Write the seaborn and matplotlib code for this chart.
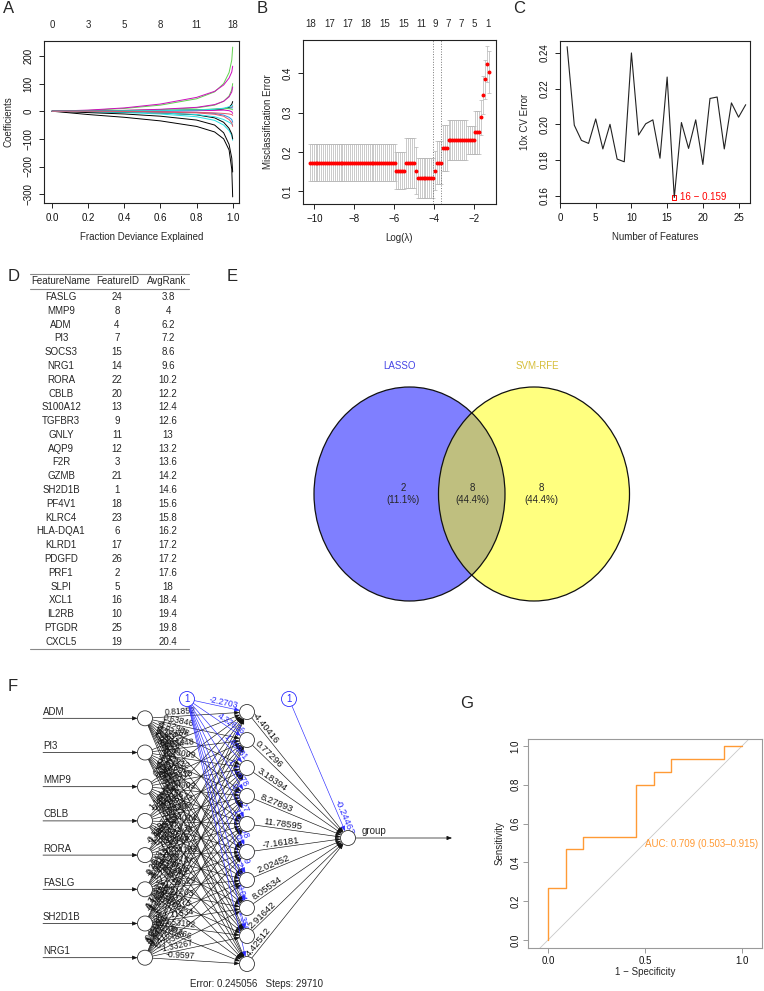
import numpy as np
import pandas as pd
import matplotlib
matplotlib.use("Agg")
import matplotlib.pyplot as plt
import seaborn as sns
from matplotlib.patches import Circle, Ellipse

# ---------------- data ----------------
# A: LASSO coefficient paths vs fraction of deviance explained
dev_frac = [0, 0.2, 0.4, 0.6, 0.8, 0.9, 0.95, 0.98, 0.995, 1.0]
coef_paths = [
    [0, 3, 10, 22, 45, 70, 100, 140, 185, 232],
    [0, 4, 12, 26, 50, 72, 95, 120, 142, 163],
    [0, 1, 3, 6, 12, 22, 36, 55, 78, 100],
    [0, 1, 3, 7, 14, 24, 36, 52, 70, 88],
    [0, -2, -5, -10, -20, -33, -50, -70, -88, -105],
    [0, -12, -22, -35, -55, -75, -100, -140, -210, -310],
    [0, -5, -10, -18, -32, -50, -78, -120, -170, -220],
    [0, -1, -3, -6, -13, -24, -40, -62, -82, -100],
    [0, 0, 1, 2, 3, 5, 8, 11, 14, 18],
    [0, 0, -1, -2, -4, -8, -14, -22, -30, -40],
    [0, -1, -3, -6, -12, -20, -30, -40, -46, -50],
    [0, 0, -1, -3, -6, -11, -18, -30, -42, -55],
    [0, 1, 2, 3, 5, 7, 9, 11, 12, 12],
    [0, 0, 1, 2, 4, 6, 9, 14, 25, 35],
    [0, 0, 1, 3, 5, 8, 10, 9, 7, 5],
    [0, 0, 0, 1, 2, 3, 4, 2, -2, -8],
    [0, 0, 1, 2, 4, 7, 11, 16, 19, 22],
    [0, 0, -1, -2, -4, -6, -8, -10, -12, -15],
]
path_colors = ["#61D04F", "#CD0BBC", "#61D04F", "#CD0BBC", "#28E2E5", "#000000",
               "#000000", "#000000", "#DF536B", "#2297E6", "#28E2E5", "#DF536B",
               "#2297E6", "#000000", "#61D04F", "#CD0BBC", "#28E2E5", "#DF536B"]
dev_ticks = [0, 0.2, 0.4, 0.6, 0.8, 1.0]
dev_nonzero = [0, 3, 5, 8, 11, 18]

# B: cross-validated misclassification error (run-length coded, left to right)
log_lambda = [-10.23, -10.14, -10.04, -9.94, -9.85, -9.75, -9.65, -9.55, -9.46, -9.36,
              -9.26, -9.17, -9.07, -8.97, -8.88, -8.78, -8.68, -8.59, -8.49, -8.39,
              -8.30, -8.20, -8.10, -8.01, -7.91, -7.81, -7.72, -7.62, -7.52, -7.43,
              -7.33, -7.23, -7.13, -7.04, -6.94, -6.84, -6.75, -6.65, -6.55, -6.46,
              -6.36, -6.26, -6.17, -6.07, -5.97, -5.88, -5.78, -5.68, -5.59, -5.49,
              -5.39, -5.30, -5.20, -5.10, -5.01, -4.91, -4.81, -4.71, -4.62, -4.52,
              -4.42, -4.33, -4.23, -4.13, -4.04, -3.94, -3.84, -3.75, -3.65, -3.55,
              -3.46, -3.36, -3.26, -3.17, -3.07, -2.97, -2.88, -2.78, -2.68, -2.59,
              -2.49, -2.39, -2.29, -2.20, -2.10, -2.00, -1.91, -1.81, -1.71, -1.62,
              -1.52, -1.42, -1.33, -1.23]
err_levels = [0.173, 0.153, 0.173, 0.153, 0.134, 0.153, 0.173, 0.211, 0.2305, 0.2305,
              0.25, 0.288, 0.346, 0.385, 0.423, 0.403]
err_se = [0.047, 0.048, 0.064, 0.06, 0.05, 0.049, 0.054, 0.058, 0.05, 0.036,
          0.055, 0.045, 0.048, 0.05, 0.046, 0.053]
err_counts = [45, 5, 5, 1, 9, 1, 3, 3, 10, 4, 3, 1, 1, 1, 1, 1]
lambda_min, lambda_1se = -4.04, -3.65
top_pos_b = [-10.18, -9.25, -8.33, -7.40, -6.47, -5.53, -4.65, -3.92, -3.27, -2.62, -1.97, -1.30]
top_nz_b = [18, 17, 17, 18, 15, 15, 11, 9, 7, 7, 5, 1]

# C: SVM-RFE 10x CV error
n_features = list(range(1, 27))
cv_error = [0.2435, 0.1995, 0.1910, 0.1893, 0.2030, 0.1862, 0.2000, 0.1805, 0.1790, 0.2400,
            0.1940, 0.2003, 0.2025, 0.1810, 0.2265, 0.1590, 0.2010, 0.1865, 0.2025, 0.1775,
            0.2145, 0.2153, 0.1862, 0.2120, 0.2040, 0.2110]
best_n, best_err = 16, 0.159

# D: SVM-RFE ranking table
feature_names = ["FASLG", "MMP9", "ADM", "PI3", "SOCS3", "NRG1", "RORA", "CBLB", "S100A12",
                 "TGFBR3", "GNLY", "AQP9", "F2R", "GZMB", "SH2D1B", "PF4V1", "KLRC4",
                 "HLA-DQA1", "KLRD1", "PDGFD", "PRF1", "SLPI", "XCL1", "IL2RB", "PTGDR", "CXCL5"]
feature_ids = [24, 8, 4, 7, 15, 14, 22, 20, 13, 9, 11, 12, 3, 21, 1, 18, 23, 6, 17, 26,
               2, 5, 16, 10, 25, 19]
avg_rank = [3.8, 4, 6.2, 7.2, 8.6, 9.6, 10.2, 12.2, 12.4, 12.6, 13, 13.2, 13.6, 14.2, 14.6,
            15.6, 15.8, 16.2, 17.2, 17.2, 17.6, 18, 18.4, 19.4, 19.8, 20.4]

# E: Venn counts
venn_sets = ["LASSO", "SVM-RFE"]
venn_counts = [2, 8, 8]  # LASSO only, both, SVM-RFE only

# F: neural network weights
nn_inputs = ["ADM", "PI3", "MMP9", "CBLB", "RORA", "FASLG", "SH2D1B", "NRG1"]
w_in_hidden = [
    [0.81852, 0.63846, 1.52988, -0.94625, 2.01348, -1.30925, 0.47009, -2.13662, 1.08213, -0.57744],
    [-1.20461, 0.93448, -0.33009, 1.74212, -2.61805, 0.52279, 1.91466, -0.84171, 0.29913, 1.45551],
    [0.37113, -1.69213, 2.28415, 0.64902, -0.15573, 1.33076, -2.04472, 0.87651, -1.14308, 0.60517],
    [1.12648, -0.42318, 0.73561, -1.88296, 0.94014, 2.47335, -0.61859, 1.20887, 0.35416, -1.02993],
    [-0.55972, 1.48551, -1.27606, 0.31284, 1.66745, -0.74193, 0.88157, -1.59632, 2.11871, 0.44016],
    [0.26431, -0.98716, 1.60473, -0.49055, 0.73647, 1.04884, -1.35629, 0.51203, -0.82275, 1.92041],
    [1.77325, 0.40981, -0.70552, 1.29458, -1.46613, 0.66807, 0.21287, -1.11534, 1.53192, -0.38266],
    [-0.67124, 1.09385, 0.55692, -1.62381, 0.84277, -0.29842, 1.41606, 0.70388, -1.33267, -0.9597],
]
w_bias_hidden = [-2.2703, 4.32636, 1.40981, 1.72678, 0.75427, 1.25708, 0.10109, 2.8596, 0.04044, 1.35906]
w_hidden_out = [-4.40416, 0.77296, 3.18394, 8.27893, 11.78595, -7.16181, 2.02452, 8.05534, 2.91642, 4.42512]
w_bias_out = -0.24463
nn_error, nn_steps = 0.245056, 29710

# G: ROC
roc_fpr = [0, 0, 0.0909, 0.0909, 0.1818, 0.1818, 0.4545, 0.4545, 0.5455, 0.5455,
           0.6364, 0.6364, 0.9091, 0.9091, 1.0]
roc_tpr = [0, 0.2667, 0.2667, 0.4667, 0.4667, 0.5333, 0.5333, 0.8, 0.8, 0.8667,
           0.8667, 0.9333, 0.9333, 1.0, 1.0]
auc, auc_lo, auc_hi = 0.709, 0.503, 0.915

# ---------------- style ----------------
sns.set_theme(style="white")
plt.rcParams["font.family"] = ["Liberation Sans", "DejaVu Sans"]
plt.rcParams["axes.unicode_minus"] = True

W, H = 764, 991
fig = plt.figure(figsize=(W / 100, H / 100), dpi=100)


def px_axes(l, t, r, b):
    return fig.add_axes([l / W, 1 - b / H, (r - l) / W, (b - t) / H])


def r_style(ax, edge="#222222"):
    for s in ax.spines.values():
        s.set_visible(True)
        s.set_color(edge)
        s.set_linewidth(0.8)
    ax.tick_params(direction="out", length=3.5, width=0.7, pad=4, labelsize=7,
                   colors=edge, labelcolor="#111111", bottom=True, left=True)
    ax.tick_params(axis="y", labelrotation=90)
    plt.setp(ax.get_yticklabels(), va="center")
    ax.grid(False)


def letter(x, y, s):
    fig.text(x / W, 1 - y / H, s, ha="left", va="top", fontsize=12)


# ---------------- A ----------------
ax = px_axes(44, 41, 239, 203)
rows = []
for i, path in enumerate(coef_paths):
    for f, c in zip(dev_frac, path):
        rows.append((i, f, c))
df_a = pd.DataFrame(rows, columns=["path", "frac", "coef"])
sns.lineplot(data=df_a, x="frac", y="coef", hue="path", palette=dict(enumerate(path_colors)),
             estimator=None, sort=False, legend=False, lw=0.7, ax=ax)
ax.set_xlim(-0.045, 1.035)
ax.set_ylim(-332, 254)
ax.set_xticks(dev_ticks)
ax.set_yticks([-300, -200, -100, 0, 100, 200])
ax.set_xlabel("Fraction Deviance Explained", fontsize=7, labelpad=6)
ax.set_ylabel("Coefficients", fontsize=7, labelpad=7)
r_style(ax)
top = ax.secondary_xaxis("top")
top.set_xticks(dev_ticks, labels=[str(v) for v in dev_nonzero])
top.tick_params(length=0, labelsize=7, pad=8)
top.spines["top"].set_visible(False)
letter(3, 1, "A")

# ---------------- B ----------------
ax = px_axes(303, 40, 496, 204)
cv_err = np.repeat(err_levels, err_counts)
cv_sd = np.repeat(err_se, err_counts)
ax.errorbar(log_lambda, cv_err, yerr=cv_sd, fmt="none", ecolor="#B5B5B5",
            elinewidth=0.5, capsize=1.3, capthick=0.5, zorder=1)
sns.scatterplot(x=log_lambda, y=cv_err, color="red", s=8, linewidth=0, ax=ax, zorder=3)
ax.axvline(lambda_min, color="#777777", ls=":", lw=0.7)
ax.axvline(lambda_1se, color="#777777", ls=":", lw=0.7)
ax.set_xlim(-10.57, -0.88)
ax.set_ylim(0.068, 0.485)
ax.set_xticks([-10, -8, -6, -4, -2])
ax.set_yticks([0.1, 0.2, 0.3, 0.4])
ax.set_xlabel("Log(λ)", fontsize=7, labelpad=6)
ax.set_ylabel("Misclassification Error", fontsize=7, labelpad=7)
r_style(ax)
top = ax.secondary_xaxis("top")
top.set_xticks(top_pos_b, labels=[str(v) for v in top_nz_b])
top.tick_params(length=0, labelsize=7, pad=8)
top.spines["top"].set_visible(False)
letter(257, 1, "B")

# ---------------- C ----------------
ax = px_axes(560, 41, 750, 203)
sns.lineplot(x=n_features, y=cv_error, color="#222222", lw=0.8, ax=ax)
sns.scatterplot(x=[best_n], y=[best_err], marker="s", s=10, facecolor="none",
                edgecolor="red", linewidth=0.7, ax=ax)
ax.annotate(f"{best_n} − {best_err}", (best_n, best_err), xytext=(4, 0),
            textcoords="offset points", ha="left", va="center", color="red", fontsize=7)
ax.set_xlim(0, 26.6)
ax.set_ylim(0.1559, 0.2467)
ax.set_xticks([0, 5, 10, 15, 20, 25])
ax.set_yticks([0.16, 0.18, 0.20, 0.22, 0.24])
ax.set_yticklabels(["0.16", "0.18", "0.20", "0.22", "0.24"])
ax.set_xlabel("Number of Features", fontsize=7, labelpad=6)
ax.set_ylabel("10x CV Error", fontsize=7, labelpad=7)
r_style(ax)
letter(513, 1, "C")

# ---------------- D ----------------
ax = px_axes(0, 255, 200, 660)
ax.set_xlim(0, 200)
ax.set_ylim(660, 255)
ax.axis("off")
head_x = [61, 118, 167]
col_x = [61, 117, 168]
for x, h in zip(head_x, ["FeatureName", "FeatureID", "AvgRank"]):
    ax.text(x, 281.5, h, ha="center", va="center", fontsize=7)
for i, (n, fid, r) in enumerate(zip(feature_names, feature_ids, avg_rank)):
    y = 297 + 13.79 * i
    ax.text(col_x[0], y, n, ha="center", va="center", fontsize=7)
    ax.text(col_x[1], y, str(fid), ha="center", va="center", fontsize=7)
    ax.text(col_x[2], y, f"{r:g}", ha="center", va="center", fontsize=7)
for y in [274, 289, 649]:
    ax.plot([30, 189], [y, y], color="#888888", lw=0.8)
letter(8, 269, "D")

# ---------------- E ----------------
ax = px_axes(230, 340, 700, 640)
ax.set_xlim(230, 700)
ax.set_ylim(640, 340)
ax.axis("off")
cx_l, cx_r, cy, rx, ry = 409.5, 534, 494, 95.5, 107
ax.add_patch(Ellipse((cx_l, cy), 2 * rx, 2 * ry, facecolor="#0000FF", alpha=0.5, lw=0))
ax.add_patch(Ellipse((cx_r, cy), 2 * rx, 2 * ry, facecolor="#FFFF00", alpha=0.5, lw=0))
for c in [cx_l, cx_r]:
    ax.add_patch(Ellipse((c, cy), 2 * rx, 2 * ry, facecolor="none", edgecolor="#111111", lw=0.9))
total = sum(venn_counts)
for x, n in zip([403, 472, 541], venn_counts):
    ax.text(x, cy, f"{n}\n({100 * n / total:.1f}%)", ha="center", va="center",
            fontsize=7, linespacing=1.15)
ax.text(400, 366, venn_sets[0], ha="center", va="center", fontsize=7, color="#4646E6")
ax.text(537, 366, venn_sets[1], ha="center", va="center", fontsize=7, color="#D6BE3A")
letter(227, 269, "E")

# ---------------- F ----------------
ax = px_axes(0, 680, 455, 991)
ax.set_xlim(0, 455)
ax.set_ylim(991, 680)
ax.axis("off")
X_IN, X_HID, X_OUT, Y_MID = 145, 247, 348, 838
R = 7.5
in_y = [Y_MID + (i - (len(nn_inputs) - 1) / 2) * 34.2 for i in range(len(nn_inputs))]
n_hid = len(w_hidden_out)
hid_y = [Y_MID + (j - (n_hid - 1) / 2) * 28 for j in range(n_hid)]
bias1, bias2 = (187, 699), (289, 699)
blue = "#2B2BFF"


def edge(p1, p2, w, color, frac, fs=6.2):
    (x1, y1), (x2, y2) = p1, p2
    d = np.hypot(x2 - x1, y2 - y1)
    ux, uy = (x2 - x1) / d, (y2 - y1) / d
    ax.annotate("", xy=(x2 - ux * R, y2 - uy * R), xytext=(x1 + ux * R, y1 + uy * R),
                arrowprops=dict(arrowstyle="-|>,head_length=0.5,head_width=0.2",
                                color=color, lw=0.45, shrinkA=0, shrinkB=0,
                                mutation_scale=6))
    ang = np.degrees(np.arctan2(-(y2 - y1), x2 - x1))
    ax.text(x1 + frac * (x2 - x1), y1 + frac * (y2 - y1), str(w), rotation=ang,
            rotation_mode="anchor", ha="center", va="bottom", fontsize=fs, color=color)


for i, yi in enumerate(in_y):
    for j, yh in enumerate(hid_y):
        ang = abs(np.degrees(np.arctan2(yh - yi, X_HID - X_IN)))
        edge((X_IN, yi), (X_HID, yh), w_in_hidden[i][j], "#111111", 0.36 - 0.0035 * ang)
for j, yh in enumerate(hid_y):
    ang = abs(np.degrees(np.arctan2(yh - bias1[1], X_HID - bias1[0])))
    edge(bias1, (X_HID, yh), w_bias_hidden[j], blue, 0.55 + 0.004 * ang)
for j, yh in enumerate(hid_y):
    ang = abs(np.degrees(np.arctan2(Y_MID - yh, X_OUT - X_HID)))
    edge((X_HID, yh), (X_OUT, Y_MID), w_hidden_out[j], "#111111", 0.38 - 0.0045 * ang, fs=6.8)
edge(bias2, (X_OUT, Y_MID), w_bias_out, blue, 0.86, fs=6.8)

for name, yi in zip(nn_inputs, in_y):
    ax.annotate("", xy=(X_IN - R, yi), xytext=(43, yi),
                arrowprops=dict(arrowstyle="-|>,head_length=0.5,head_width=0.2",
                                color="#111111", lw=0.5, shrinkA=0, shrinkB=0, mutation_scale=6))
    ax.text(43, yi - 1.5, name, ha="left", va="bottom", fontsize=7)
ax.annotate("", xy=(452, Y_MID), xytext=(X_OUT + R, Y_MID),
            arrowprops=dict(arrowstyle="-|>,head_length=0.5,head_width=0.2",
                            color="#111111", lw=0.5, shrinkA=0, shrinkB=0, mutation_scale=6))
ax.text(362, Y_MID - 1.5, "group", ha="left", va="bottom", fontsize=7)

for yi in in_y:
    ax.add_patch(Circle((X_IN, yi), R, facecolor="white", edgecolor="#333333", lw=0.6, zorder=5))
for yh in hid_y:
    ax.add_patch(Circle((X_HID, yh), R, facecolor="white", edgecolor="#333333", lw=0.6, zorder=5))
ax.add_patch(Circle((X_OUT, Y_MID), R, facecolor="white", edgecolor="#333333", lw=0.6, zorder=5))
for b in [bias1, bias2]:
    ax.add_patch(Circle(b, R, facecolor="white", edgecolor=blue, lw=0.6, zorder=5))
    ax.text(b[0], b[1], "1", ha="center", va="center", fontsize=7, color=blue, zorder=6)
ax.text(256, 984, f"Error: {nn_error}   Steps: {nn_steps}", ha="center", va="center",
        fontsize=7)
letter(8, 679, "F")

# ---------------- G ----------------
ax = px_axes(528, 739, 762, 948)
ax.axline((0, 0), (1, 1), color="#C8C8C8", lw=0.6)
sns.lineplot(x=roc_fpr, y=roc_tpr, color="#FF9A35", lw=1.0, estimator=None, sort=False, ax=ax)
ax.text(0.5, 0.493, f"AUC: {auc} ({auc_lo}–{auc_hi})", color="#FF9A35", fontsize=7,
        ha="left", va="center")
ax.set_xlim(-0.103, 1.103)
ax.set_ylim(-0.041, 1.036)
ax.set_xticks([0, 0.5, 1.0])
ax.set_xticklabels(["0.0", "0.5", "1.0"])
ax.set_yticks([0, 0.2, 0.4, 0.6, 0.8, 1.0])
ax.set_yticklabels(["0.0", "0.2", "0.4", "0.6", "0.8", "1.0"])
ax.set_xlabel("1 − Specificity", fontsize=7, labelpad=1)
ax.set_ylabel("Sensitivity", fontsize=7, labelpad=4)
r_style(ax, edge="#9A9A9A")
ax.tick_params(pad=2)
letter(460, 696, "G")

fig.savefig("out.png", dpi=100, facecolor="white")
